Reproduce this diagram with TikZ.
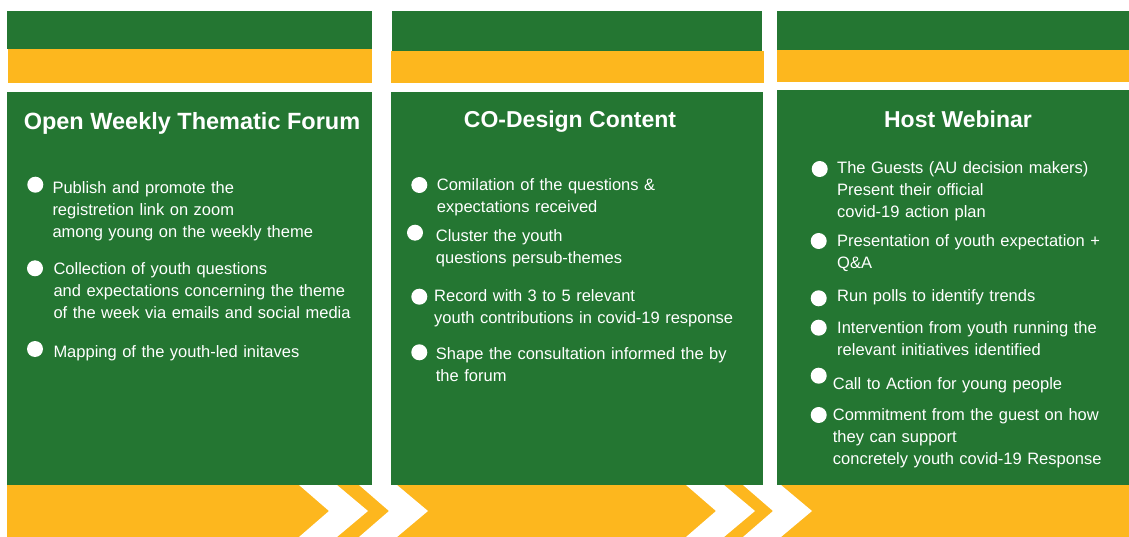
\documentclass[tikz,border=0pt]{standalone}
\usepackage{fontspec}
\setmainfont{Liberation Sans}
\definecolor{forestgreen}{RGB}{36,118,50}
\definecolor{sunyellow}{RGB}{253,183,30}
\tikzset{
  heading/.style={anchor=base, text=white, inner sep=0pt, font=\fontsize{23}{28}\selectfont\bfseries},
  dot/.style={circle, fill=white, minimum size=16pt, inner sep=0pt},
  entry/.style={anchor=base west, text=white, inner sep=0pt, text width=420pt, align=left, font=\fontsize{16.5}{22}\selectfont}
}

\begin{document}
\begin{tikzpicture}[x=1pt,y=-1pt]
  \useasboundingbox (0,0) rectangle (1129,537);
  \fill[forestgreen] (7,11) rectangle (372,49);
  \fill[sunyellow] (8,49) rectangle (372,83.5);
  \fill[forestgreen] (392,11) rectangle (762,51);
  \fill[sunyellow] (391,51) rectangle (764,83.5);
  \fill[forestgreen] (777,11) rectangle (1129,50);
  \fill[sunyellow] (777,50) rectangle (1129,82);
  \fill[forestgreen] (7,92) rectangle (372,485);
  \fill[forestgreen] (391,92) rectangle (763,485);
  \fill[forestgreen] (777,90) rectangle (1129,485);
  \fill[sunyellow] (7,485) rectangle (1129,537);
  \foreach \cx in {299,359,686,743}
    \fill[white] (\cx,485) -- ++(38,0) -- ++(31,26) -- ++(-31,26) -- ++(-38,0) -- ++(30,-26) -- cycle;

  \node[heading, font=\fontsize{23.5}{28}\selectfont\bfseries] (forum) at (192,130) {Open Weekly Thematic Forum};
  \node[heading] (codesign) at (570,128) {CO-Design Content};
  \node[heading] (webinar) at (958,128) {Host Webinar};

  \node[dot] (d1a) at (35.3,184.7) {};
  \node[entry] (e1a) at (52.3,193.5) {Publish and promote the\\registretion link on zoom\\among young on the weekly theme};
  \node[dot] (d1b) at (35,268.3) {};
  \node[entry] (e1b) at (53.3,274.4) {Collection of youth questions\\and expectations concerning the theme\\of the week via emails and social media};
  \node[dot] (d1c) at (35,349) {};
  \node[entry] (e1c) at (53.3,357.3) {Mapping of the youth-led initaves};

  \node[dot] (d2a) at (419.3,185) {};
  \node[entry] (e2a) at (436.7,190.5) {Comilation of the questions \&\\expectations received};
  \node[dot] (d2b) at (415,232.7) {};
  \node[entry] (e2b) at (435.7,241.5) {Cluster the youth\\questions persub-themes};
  \node[dot] (d2c) at (419.3,296.7) {};
  \node[entry] (e2c) at (434,301.7) {Record with 3 to 5 relevant\\youth contributions in covid-19 response};
  \node[dot] (d2d) at (419.3,352.3) {};
  \node[entry] (e2d) at (435.7,359) {Shape the consultation informed the by\\the forum};

  \node[dot] (d3a) at (819.7,169) {};
  \node[entry] (e3a) at (837,174) {The Guests (AU decision makers)\\Present their official\\covid-19 action plan};
  \node[dot] (d3b) at (818.7,241) {};
  \node[entry] (e3b) at (837,246.7) {Presentation of youth expectation +\\Q\&A};
  \node[dot] (d3c) at (818.7,298.3) {};
  \node[entry] (e3c) at (837,301) {Run polls to identify trends};
  \node[dot] (d3d) at (818.7,327.7) {};
  \node[entry] (e3d) at (837,333.3) {Intervention from youth running the\\relevant initiatives identified};
  \node[dot] (d3e) at (818.7,375.7) {};
  \node[entry] (e3e) at (832.7,389) {Call to Action for young people};
  \node[dot] (d3f) at (818.7,415) {};
  \node[entry] (e3f) at (832.7,420) {Commitment from the guest on how\\they can support\\concretely youth covid-19 Response};
\end{tikzpicture}
\end{document}
